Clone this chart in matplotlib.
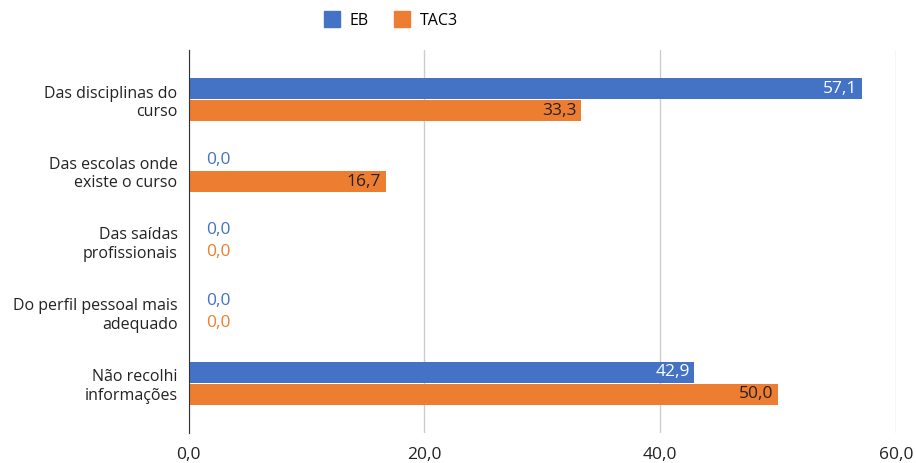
import numpy as np
import matplotlib
matplotlib.use('Agg')
import matplotlib.pyplot as plt
from matplotlib.lines import Line2D

plt.rcParams['font.family'] = ['Open Sans', 'DejaVu Sans']

categories = ['Das disciplinas do\ncurso', 'Das escolas onde\nexiste o curso',
              'Das saídas\nprofissionais', 'Do perfil pessoal mais\nadequado',
              'Não recolhi\ninformações']
eb = [57.1, 0.0, 0.0, 0.0, 42.9]
tac3 = [33.3, 16.7, 0.0, 0.0, 50.0]
series_names = ['EB', 'TAC3']
xticks = [0, 20, 40, 60]

blue = '#4472C4'
orange = '#ED7D31'

fig = plt.figure(figsize=(9.16, 4.63), dpi=100)
ax = fig.add_axes([0.206, 0.065, 0.772, 0.827])

y = np.arange(len(categories))
h = 0.29
off = 0.155
ax.barh(y - off, eb, height=h, color=blue, zorder=3)
ax.barh(y + off, tac3, height=h, color=orange, zorder=3)

def fmt(v):
    return ('%.1f' % v).replace('.', ',')

for vals, pos, col, incol in [(eb, y - off, blue, 'white'), (tac3, y + off, orange, '#222222')]:
    for v, p in zip(vals, pos):
        if v > 0:
            ax.text(v - 0.4, p, fmt(v), ha='right', va='center', color=incol, fontsize=12.5, zorder=4)
        else:
            ax.text(1.5, p, fmt(v), ha='left', va='center', color=col, fontsize=12.5, zorder=4)

ax.set_xlim(0, 60)
ax.set_ylim(len(categories) - 1 + 0.7, -0.7)
ax.set_yticks(y)
ax.set_yticklabels(categories, fontsize=11.5, color='#222222')
ax.set_xticks(xticks)
ax.set_xticklabels([fmt(v) for v in xticks], fontsize=12.5, color='#222222')
ax.tick_params(length=0)
ax.tick_params(axis='x', pad=10)
ax.tick_params(axis='y', pad=8)

ax.grid(axis='x', color='#CCCCCC', linewidth=1, zorder=0)
for s in ['top', 'right', 'bottom']:
    ax.spines[s].set_visible(False)
ax.spines['left'].set_color('#333333')
ax.spines['left'].set_zorder(5)

handles = [Line2D([], [], linestyle='none', marker='s', markersize=12, color=c) for c in [blue, orange]]
fig.legend(handles=handles, labels=series_names, loc='center', bbox_to_anchor=(0.427, 0.955),
           ncol=2, frameon=False, fontsize=11.5, handlelength=1.0,
           columnspacing=1.6, handletextpad=0.6)

fig.savefig('out.png', dpi=100)
